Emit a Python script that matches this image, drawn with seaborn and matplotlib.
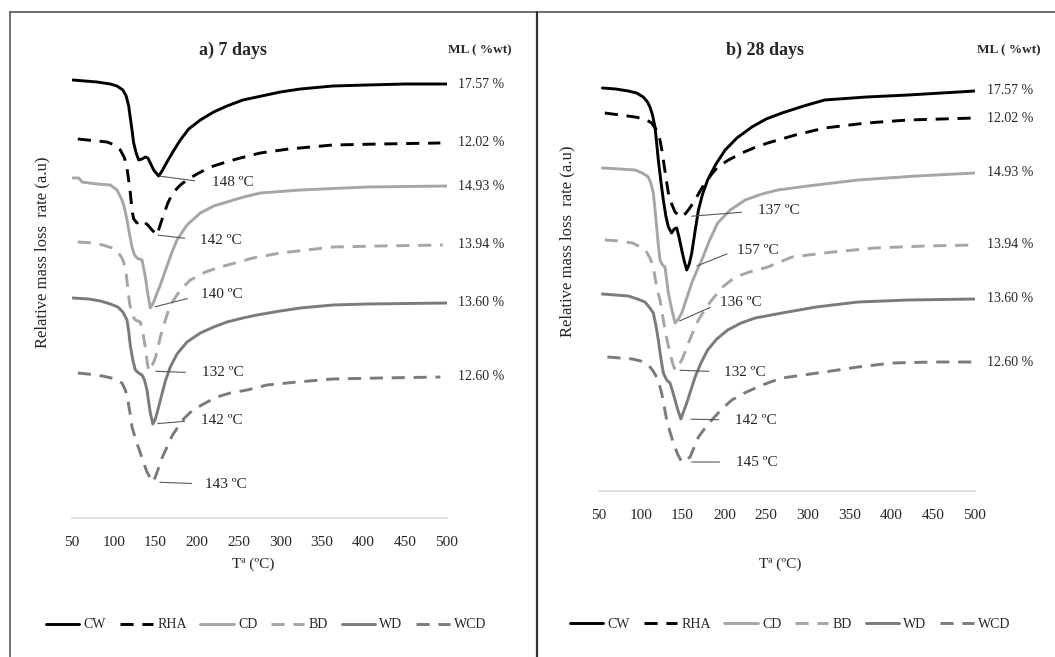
import numpy as np
import pandas as pd
import matplotlib
matplotlib.use("Agg")
import matplotlib.pyplot as plt
from matplotlib.lines import Line2D
import seaborn as sns

# samples and their ML (%wt) values
samples = ["CW", "RHA", "CD", "BD", "WD", "WCD"]
ml_labels = ["17.57 %", "12.02 %", "14.93 %", "13.94 %", "13.60 %", "12.60 %"]

# a) 7 days : temperature (ºC) and relative DTG signal (a.u., offset curves)
a_CW_T = [51, 80, 96, 104, 111, 115, 118, 120, 122, 124, 127, 130, 134, 138, 141, 144, 148, 154, 158,
          164, 171, 180, 190, 204, 220, 236, 255, 272, 300, 324, 363, 404, 450, 500]
a_CW_y = [438, 436, 434, 432, 428, 422, 412, 400, 388, 375, 365, 358, 359, 361, 360, 355, 348, 342, 347,
          356, 366, 378, 389, 398, 406, 412, 418, 421, 426, 429, 432, 433, 434, 434]
a_RHA_T = [57, 80, 92, 101, 108, 113, 116, 118, 120, 122, 124, 128, 131, 134, 138, 141, 146, 152, 155,
           159, 165, 171, 180, 188, 200, 216, 235, 252, 276, 310, 363, 420, 492]
a_RHA_y = [379, 377, 376, 373, 368, 360, 350, 338, 325, 308, 299, 295, 297, 298, 295, 293, 288, 283, 291,
           301, 315, 325, 333, 338, 344, 351, 356, 360, 365, 369, 373, 374, 375]
a_CD_T = [51, 58, 62, 80, 96, 104, 110, 113, 116, 119, 122, 125, 128, 134, 136, 138, 141, 144, 148, 152,
          156, 164, 170, 176, 188, 204, 220, 236, 256, 276, 324, 404, 500]
a_CD_y = [340, 340, 336, 334, 333, 328, 318, 310, 298, 284, 271, 263, 260, 258, 250, 241, 224, 210, 216, 225,
          233, 252, 266, 278, 293, 305, 312, 316, 321, 325, 328, 331, 332]
a_BD_T = [57, 75, 87, 98, 105, 110, 114, 117, 119, 122, 126, 132, 135, 138, 140, 142, 146, 150, 153, 156,
          162, 168, 180, 192, 210, 228, 250, 267, 300, 363, 420, 495]
a_BD_y = [276, 275, 273, 270, 266, 260, 251, 230, 215, 203, 198, 196, 185, 171, 157, 147, 152, 160, 170, 181,
          198, 213, 228, 238, 246, 251, 256, 260, 265, 271, 272, 273]
a_WD_T = [51, 70, 84, 96, 105, 111, 116, 118, 120, 123, 126, 130, 134, 137, 140, 142, 144, 147, 150, 153,
          157, 162, 168, 176, 188, 204, 220, 236, 255, 272, 300, 324, 363, 404, 500]
a_WD_y = [220, 219, 217, 214, 211, 206, 198, 187, 172, 158, 148, 145, 143, 138, 128, 116, 105, 94, 99, 108,
          121, 137, 151, 164, 176, 185, 191, 196, 200, 203, 207, 210, 213, 214, 215]
a_WCD_T = [57, 80, 92, 102, 110, 114, 117, 120, 122, 127, 132, 136, 140, 144, 147, 150, 153, 158, 164,
           170, 177, 185, 195, 210, 224, 240, 260, 284, 320, 363, 420, 492]
a_WCD_y = [145, 143, 141, 139, 135, 128, 118, 103, 91, 77, 65, 55, 46, 40, 36, 41, 48, 60, 71,
           82, 91, 100, 108, 115, 121, 125, 128, 133, 136, 139, 140, 141]

# b) 28 days
b_CW_T = [54, 70, 85, 95, 103, 108, 111, 114, 117, 119, 121, 124, 127, 130, 133, 137, 140, 143, 146, 149,
          152, 155, 158, 161, 165, 169, 174, 180, 190, 201, 215, 233, 250, 269, 295, 320, 370, 420, 460, 500]
b_CW_y = [403, 402, 400, 398, 394, 389, 384, 376, 364, 348, 331, 310, 291, 275, 264, 258, 262, 263, 253, 241,
          230, 221, 227, 238, 260, 281, 297, 311, 327, 341, 353, 364, 372, 378, 385, 391, 394, 396, 398, 400]
b_RHA_T = [57, 75, 93, 105, 113, 118, 123, 125, 127, 130, 133, 137, 141, 145, 149, 153, 157, 161, 165,
           171, 177, 185, 192, 205, 221, 235, 252, 285, 320, 370, 420, 500]
b_RHA_y = [378, 376, 374, 372, 368, 362, 351, 342, 331, 314, 298, 287, 279, 276, 274, 277, 281, 286, 291,
           300, 308, 317, 324, 331, 338, 343, 348, 356, 363, 368, 371, 373]
b_CD_T = [54, 75, 93, 102, 109, 112, 115, 117, 119, 121, 123, 126, 129, 131, 133, 137, 141, 145, 149, 155,
          161, 167, 173, 182, 192, 207, 225, 245, 264, 300, 360, 430, 500]
b_CD_y = [323, 322, 321, 318, 314, 308, 298, 282, 264, 246, 231, 226, 224, 211, 198, 182, 168, 172, 178, 193,
          208, 220, 231, 250, 268, 281, 291, 297, 301, 305, 311, 315, 318]
b_BD_T = [57, 75, 90, 100, 107, 111, 115, 117, 119, 121, 123, 126, 129, 132, 135, 138, 141, 145, 149, 153,
          157, 163, 169, 177, 185, 198, 213, 230, 252, 281, 330, 380, 440, 500]
b_BD_y = [251, 250, 248, 244, 239, 233, 224, 214, 204, 197, 191, 176, 161, 149, 138, 128, 121, 125, 131, 139,
          148, 160, 171, 182, 191, 204, 214, 219, 224, 234, 239, 243, 245, 246]
b_WD_T = [54, 70, 85, 96, 105, 110, 115, 118, 121, 124, 127, 131, 135, 138, 141, 144, 148, 151, 155, 160,
          165, 172, 180, 191, 204, 220, 237, 269, 310, 360, 420, 500]
b_WD_y = [197, 196, 195, 192, 189, 184, 178, 166, 151, 133, 118, 111, 108, 100, 91, 82, 72, 79, 88, 101,
          114, 128, 141, 152, 161, 168, 173, 178, 184, 189, 191, 192]
b_WCD_T = [60, 75, 90, 100, 109, 114, 119, 122, 125, 128, 131, 135, 139, 144, 149, 154, 159, 164, 169,
           177, 185, 197, 209, 224, 240, 255, 269, 295, 320, 360, 401, 450, 500]
b_WCD_y = [134, 133, 132, 130, 126, 121, 114, 107, 98, 85, 71, 59, 48, 37, 29, 31, 34, 44, 54,
           63, 71, 82, 91, 98, 104, 109, 113, 116, 119, 124, 128, 129, 129]

# peak labels: (sample, text)
a_peaks = [("CW", "148 ºC"), ("RHA", "142 ºC"), ("CD", "140 ºC"),
           ("BD", "132 ºC"), ("WD", "142 ºC"), ("WCD", "143 ºC")]
b_peaks = [("RHA", "137 ºC"), ("CW", "157 ºC"), ("CD", "136 ºC"),
           ("BD", "132 ºC"), ("WD", "142 ºC"), ("WCD", "145 ºC")]

# leader line layout in pixels: dx, dy (up), gap at peak, gap at text
a_leader = [(53, -7, 1, 14), (43, -5, 1, 12), (51, 13, 5, 11),
            (53, -2, 7, 13), (48, 4, 5, 13), (52, -2, 7, 10)]
b_leader = [(76, 6, 10, 13), (50, 20, 11, 7), (45, 20, 5, 7),
            (49, -2, 5, 12), (54, -1, 10, 13), (54, 0, 10, 13)]

palette = {"CW": "#000000", "RHA": "#000000", "CD": "#a6a6a6",
           "BD": "#a6a6a6", "WD": "#7b7b7b", "WCD": "#7b7b7b"}
dashes = {"CW": "", "RHA": (4.5, 3), "CD": "", "BD": (4.5, 3), "WD": "", "WCD": (4.5, 3)}

sns.set_style("white")
plt.rcParams["font.family"] = ["Liberation Serif", "DejaVu Serif"]

fig = plt.figure(figsize=(10.55, 6.57), dpi=100)
W, H = 1055, 657


def panel(rect_px, series, peaks, leader, title, title_x, ml_x, right_T, ylab_x):
    left, top, right, bottom = rect_px
    ax = fig.add_axes([left / W, 1 - bottom / H, (right - left) / W, (bottom - top) / H])
    frames = [pd.DataFrame({"T": t, "y": y, "sample": s}) for s, (t, y) in zip(samples, series)]
    df = pd.concat(frames, ignore_index=True)
    sns.lineplot(data=df, x="T", y="y", hue="sample", style="sample",
                 hue_order=samples, style_order=samples, palette=palette,
                 dashes=dashes, linewidth=2.1, estimator=None, sort=False, ax=ax)
    ax.set_xlim(50, 500)
    ax.set_ylim(0, bottom - top)
    ax.set_xticks(range(50, 501, 50))
    ax.set_yticks([])
    for sp in ["top", "right", "left"]:
        ax.spines[sp].set_visible(False)
    ax.spines["bottom"].set_color("#d9d9d9")
    ax.spines["bottom"].set_linewidth(1.2)
    ax.tick_params(axis="x", length=0, pad=13, labelsize=11)
    ax.set_xlabel("Tª (ºC)", fontsize=11)
    ax.set_ylabel("Relative mass loss  rate (a.u)", fontsize=12)
    ax.yaxis.set_label_coords(ylab_x, 0.58)

    # ML values at the right end of each curve
    for s, (t, y), lab in zip(samples, series, ml_labels):
        ax.text(right_T, y[-1], lab, ha="left", va="center", fontsize=10)

    # peak temperatures
    for (s, lab), (dx, dy, gb, ga) in zip(peaks, leader):
        t, y = series[samples.index(s)]
        i = int(np.argmin(y))
        ax.annotate(lab, xy=(t[i], y[i]), xytext=(dx * 0.72, dy * 0.72),
                    textcoords="offset points", ha="left", va="center", fontsize=11,
                    arrowprops=dict(arrowstyle="-", color="#595959", lw=0.8,
                                    relpos=(0, 0.5), shrinkA=ga * 0.72, shrinkB=gb * 0.72))

    ax.text(title_x, 1 - 50 / H, title, transform=fig.transFigure,
            ha="center", va="center", fontsize=13, fontweight="bold")
    ax.text(ml_x, 1 - 50 / H, "ML ( %wt)", transform=fig.transFigure,
            ha="center", va="center", fontsize=9.5, fontweight="bold")
    return ax


ax_a = panel((72, 60, 447, 518),
             [(a_CW_T, a_CW_y), (a_RHA_T, a_RHA_y), (a_CD_T, a_CD_y),
              (a_BD_T, a_BD_y), (a_WD_T, a_WD_y), (a_WCD_T, a_WCD_y)],
             a_peaks, a_leader, "a) 7 days", 233 / W, 480 / W, 513, -0.058)
ax_a.xaxis.set_label_coords(0.483, -0.087)
sns.move_legend(ax_a, loc="center", bbox_to_anchor=(266 / W, 1 - 625 / H),
                bbox_transform=fig.transFigure, ncol=6, frameon=False, title=None,
                fontsize=10, handlelength=2.4, handletextpad=0.3, columnspacing=1.0)

ax_b = panel((599, 60, 975, 491),
             [(b_CW_T, b_CW_y), (b_RHA_T, b_RHA_y), (b_CD_T, b_CD_y),
              (b_BD_T, b_BD_y), (b_WD_T, b_WD_y), (b_WCD_T, b_WCD_y)],
             b_peaks, b_leader, "b) 28 days", 765 / W, 1009 / W, 514, -0.064)
ax_b.xaxis.set_label_coords(0.481, -0.155)
sns.move_legend(ax_b, loc="center", bbox_to_anchor=(790 / W, 1 - 624 / H),
                bbox_transform=fig.transFigure, ncol=6, frameon=False, title=None,
                fontsize=10, handlelength=2.4, handletextpad=0.3, columnspacing=1.0)

# panel frames
fig.add_artist(Line2D([10 / W, 1], [1 - 12 / H] * 2, color="#555555", lw=1.2))
fig.add_artist(Line2D([10 / W] * 2, [0, 1 - 12 / H], color="#555555", lw=1.2))
fig.add_artist(Line2D([537 / W] * 2, [0, 1 - 12 / H], color="#333333", lw=1.6))

fig.savefig("out.png", dpi=100)
